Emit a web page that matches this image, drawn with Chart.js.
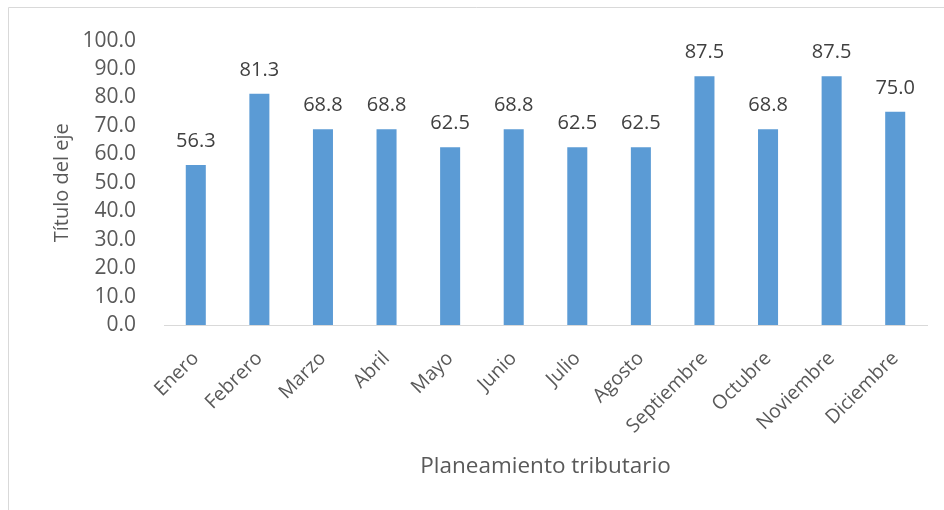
<!DOCTYPE html>
<html>
<head>
<meta charset="utf-8">
<script src="https://cdn.jsdelivr.net/npm/chart.js@4"></script>
<style>
  html, body { margin: 0; padding: 0; background: #fff; }
  #wrap { width: 944px; height: 510px; position: relative; }
</style>
</head>
<body>
<div id="wrap"><canvas id="chart" width="944" height="510"></canvas></div>
<script>
var months = ['Enero', 'Febrero', 'Marzo', 'Abril', 'Mayo', 'Junio', 'Julio',
              'Agosto', 'Septiembre', 'Octubre', 'Noviembre', 'Diciembre'];
var values = [56.3, 81.3, 68.8, 68.8, 62.5, 68.8, 62.5, 62.5, 87.5, 68.8, 87.5, 75.0];
var yTicks = [0, 10, 20, 30, 40, 50, 60, 70, 80, 90, 100];

var fontFamily = '"Open Sans", sans-serif';

// draws the value above each bar
var valueLabels = {
    id: 'valueLabels',
    afterDatasetsDraw: function(chart) {
        var ctx = chart.ctx;
        var meta = chart.getDatasetMeta(0);
        ctx.save();
        ctx.font = '20px ' + fontFamily;
        ctx.fillStyle = '#404040';
        ctx.textAlign = 'center';
        ctx.textBaseline = 'alphabetic';
        meta.data.forEach(function(bar, i) {
            ctx.fillText(values[i].toFixed(1), bar.x, bar.y - 18);
        });
        ctx.restore();
    }
};

// light frame around the chart area like the office export
var frame = {
    id: 'frame',
    beforeDraw: function(chart) {
        var ctx = chart.ctx;
        ctx.save();
        ctx.strokeStyle = '#d9d9d9';
        ctx.lineWidth = 1;
        ctx.beginPath();
        ctx.moveTo(8.5, 510);
        ctx.lineTo(8.5, 7.5);
        ctx.lineTo(944, 7.5);
        ctx.stroke();
        ctx.restore();
    }
};

var ctx = document.getElementById('chart').getContext('2d');
var chart = new Chart(ctx, {
    type: 'bar',
    data: {
        labels: months,
        datasets: [{
            data: values,
            backgroundColor: '#5b9bd5',
            borderWidth: 0,
            barPercentage: 0.63,
            categoryPercentage: 0.5
        }]
    },
    options: {
        responsive: false,
        animation: false,
        layout: { padding: { top: 36, right: 17, bottom: 0, left: 0 } },
        plugins: {
            legend: { display: false },
            tooltip: { enabled: false }
        },
        scales: {
            x: {
                grid: { display: false, drawTicks: false },
                border: { color: '#d9d9d9', width: 1 },
                ticks: {
                    color: '#595959',
                    font: { family: fontFamily, size: 19.5 },
                    minRotation: 45,
                    maxRotation: 45,
                    padding: 22,
                    autoSkip: false
                },
                title: {
                    display: true,
                    text: 'Planeamiento tributario',
                    color: '#595959',
                    font: { family: fontFamily, size: 22.5 },
                    padding: { top: 0, bottom: 29.5 }
                },
                afterFit: function(scale) { scale.height = 185; }
            },
            y: {
                min: 0,
                max: 100,
                grid: { display: false, drawTicks: false },
                border: { display: false },
                afterBuildTicks: function(scale) {
                    scale.ticks = yTicks.map(function(v) { return { value: v }; });
                },
                ticks: {
                    color: '#595959',
                    font: { family: fontFamily, size: 21 },
                    padding: 28,
                    callback: function(v) { return Number(v).toFixed(1); }
                },
                title: {
                    display: true,
                    text: 'Título del eje',
                    color: '#595959',
                    font: { family: fontFamily, size: 20 },
                    padding: { top: 50, bottom: 0 }
                },
                afterFit: function(scale) { scale.width = 164; }
            }
        }
    },
    plugins: [frame, valueLabels]
});
</script>
</body>
</html>
